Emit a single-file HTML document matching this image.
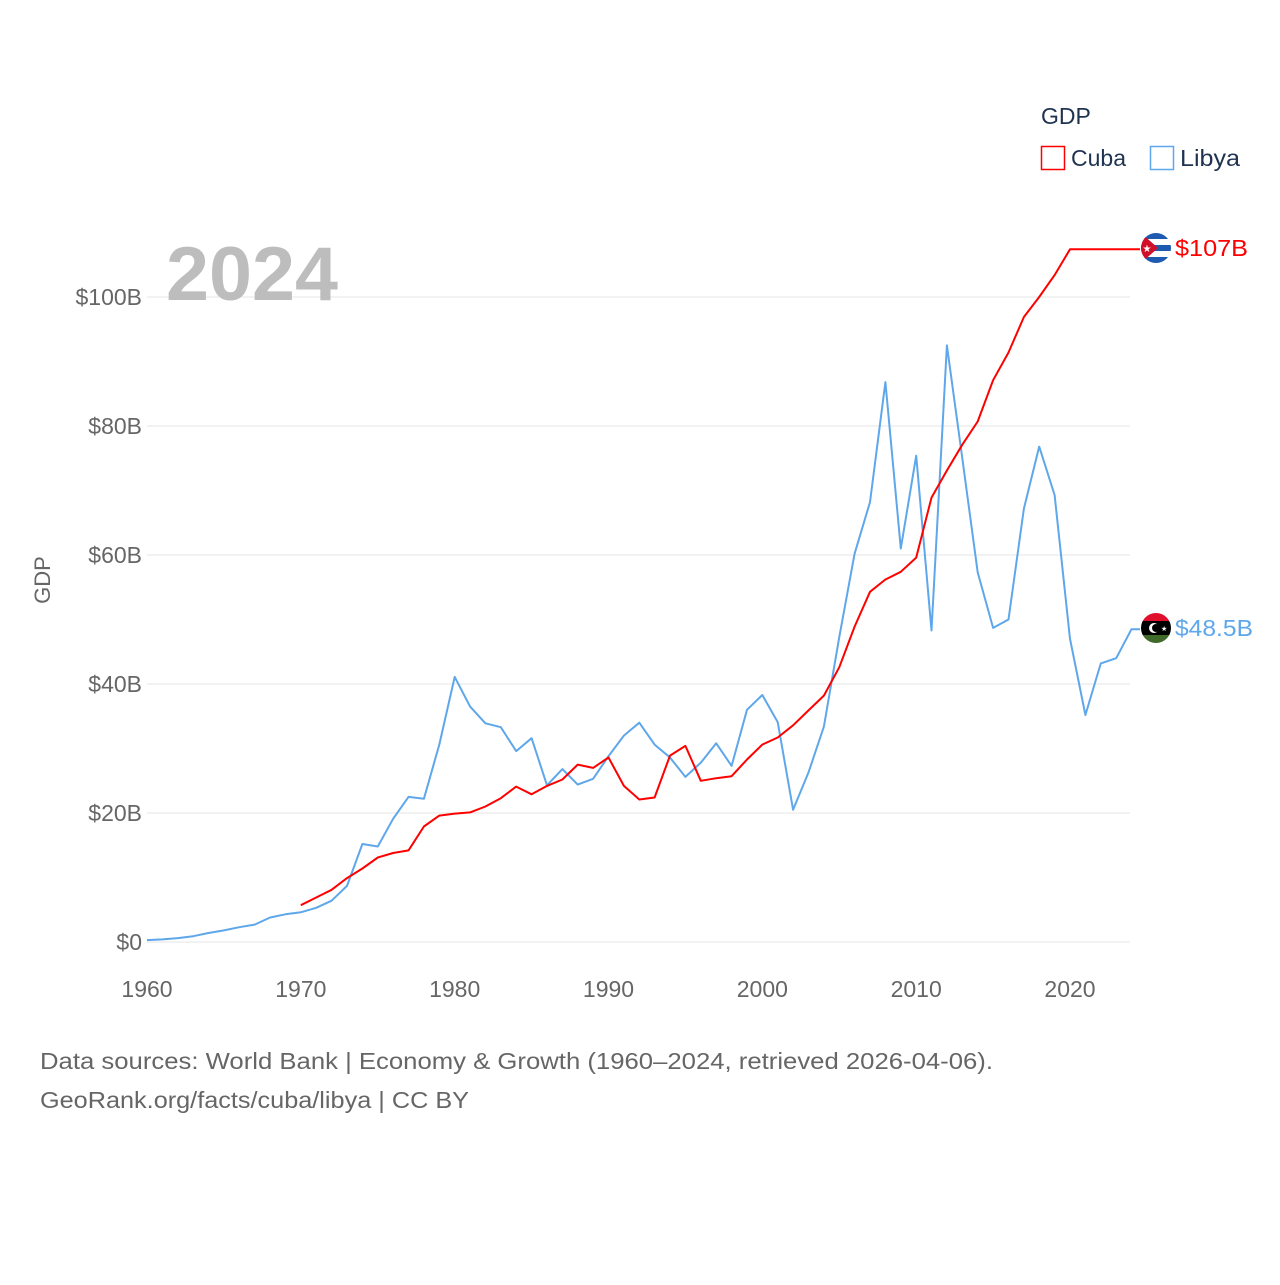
<!DOCTYPE html>
<html><head><meta charset="utf-8">
<style>
html,body{margin:0;padding:0;background:#fff;}
body{width:1280px;height:1280px;overflow:hidden;font-family:"Liberation Sans",sans-serif;}
svg text{font-family:"Liberation Sans",sans-serif;}
</style></head>
<body>
<svg id="chart" width="1280" height="1280" viewBox="0 0 1280 1280">
  <g id="grid"></g>
  <g id="yticks"></g>
  <g id="xticks"></g>
  <text x="50" y="580" font-size="22" fill="#666" text-anchor="middle" transform="rotate(-90 50 580)">GDP</text>
  <text x="166" y="300" font-size="76" font-weight="bold" fill="#bdbdbd" textLength="172" lengthAdjust="spacingAndGlyphs">2024</text>
  <g id="series"></g>
  <g>
    <text x="1041" y="124" font-size="23" fill="#1f3350">GDP</text>
    <g>
      <rect x="1041.5" y="146.5" width="23" height="23" fill="none" stroke="#ff0000" stroke-width="1.5"/>
      <text x="1071" y="166" font-size="23" fill="#1f3350">Cuba</text>
    </g>
    <g>
      <rect x="1150.5" y="146.5" width="23" height="23" fill="none" stroke="#5ea7ea" stroke-width="1.5"/>
      <text x="1180" y="166" font-size="23" fill="#1f3350" textLength="60" lengthAdjust="spacingAndGlyphs">Libya</text>
    </g>
  </g>
  <defs>
    <clipPath id="cc"><circle cx="1156" cy="248" r="15"/></clipPath>
    <clipPath id="lc"><circle cx="1156" cy="628" r="15"/></clipPath>
  </defs>
  <g clip-path="url(#cc)">
    <rect x="1141" y="233" width="30" height="30" fill="#fff"/>
    <rect x="1141" y="233" width="30" height="6" fill="#1e5bb0"/>
    <rect x="1141" y="245" width="30" height="6" fill="#1e5bb0"/>
    <rect x="1141" y="257" width="30" height="6" fill="#1e5bb0"/>
    <polygon points="1141,233 1158,248 1141,263" fill="#d0102a"/>
    <text x="1147" y="252" font-size="10" fill="#fff" text-anchor="middle">★</text>
  </g>
  <g clip-path="url(#lc)">
    <rect x="1141" y="613" width="30" height="8" fill="#e0102c"/>
    <rect x="1141" y="621" width="30" height="14" fill="#000"/>
    <rect x="1141" y="635" width="30" height="8" fill="#3f6a2a"/>
    <circle cx="1154" cy="628" r="5" fill="#fff"/><circle cx="1156" cy="628" r="4" fill="#000"/>
    <text x="1161" y="631" font-size="7" fill="#fff">★</text>
  </g>
  <text x="1175" y="256" font-size="23" fill="#ff0000" textLength="73" lengthAdjust="spacingAndGlyphs">$107B</text>
  <text x="1175" y="636" font-size="23" fill="#5ea7ea" textLength="78" lengthAdjust="spacingAndGlyphs">$48.5B</text>
  <text x="40" y="1069" font-size="23" fill="#666" textLength="953" lengthAdjust="spacingAndGlyphs">Data sources: World Bank | Economy &amp; Growth (1960–2024, retrieved 2026-04-06).</text>
  <text x="40" y="1108" font-size="23" fill="#666" textLength="429" lengthAdjust="spacingAndGlyphs">GeoRank.org/facts/cuba/libya | CC BY</text>
</svg>
<script>
const yTicks=[0,20,40,60,80,100];
const yTickLabels=["$0","$20B","$40B","$60B","$80B","$100B"];
const xTicks=[1960,1970,1980,1990,2000,2010,2020];
const libyaStart=1960;
const libyaValues=[0.3,0.4,0.6,0.9,1.4,1.8,2.3,2.7,3.8,4.3,4.6,5.3,6.4,8.7,15.2,14.8,19.1,22.5,22.2,30.6,41.1,36.5,33.9,33.3,29.6,31.6,24.3,26.8,24.4,25.3,28.8,32.0,34.0,30.6,28.6,25.6,27.8,30.8,27.3,36.0,38.3,34.1,20.5,26.3,33.4,47.3,60.2,68.2,86.8,61.0,75.4,48.3,92.5,75.0,57.3,48.7,50.0,67.2,76.8,69.3,47.0,35.2,43.2,44.0,48.5];
const cubaStart=1970;
const cubaValues=[5.7,6.9,8.1,9.9,11.4,13.1,13.8,14.2,17.9,19.6,19.9,20.1,21.0,22.3,24.1,22.9,24.2,25.2,27.5,27.0,28.6,24.2,22.1,22.4,28.9,30.4,25.0,25.4,25.7,28.3,30.6,31.7,33.6,35.9,38.2,42.6,48.9,54.3,56.2,57.4,59.6,68.9,73.1,77.1,80.7,87.1,91.4,96.9,100.0,103.4,107.4];

const NS="http://www.w3.org/2000/svg";
const X=yr=>147+(yr-1960)*(1070-147)/60;
const Y=v=>942-v*6.45;
function mk(tag,attrs,parent){const e=document.createElementNS(NS,tag);for(const k in attrs)e.setAttribute(k,attrs[k]);parent.appendChild(e);return e;}
const grid=document.getElementById('grid'),yt=document.getElementById('yticks'),xt=document.getElementById('xticks'),ser=document.getElementById('series');
yTicks.forEach((v,i)=>{
  const l=mk('line',{x1:147,x2:1130,y1:Y(v),y2:Y(v),stroke:'#e6e6e6','stroke-width':1},grid);
  
  
  const t=mk('text',{x:142,y:Y(v)+8,'font-size':23,fill:'#666','text-anchor':'end'},yt);
  t.textContent=yTickLabels[i];
  
  
});
xTicks.forEach(yr=>{
  const t=mk('text',{x:X(yr),y:997,'font-size':23,fill:'#666','text-anchor':'middle'},xt);
  t.textContent=yr;
  
  
});
function line(start,vals,color,name){
  const pts=vals.map((v,i)=>X(start+i).toFixed(1)+','+Y(v).toFixed(1));
  pts.push('1140,'+Y(vals[vals.length-1]).toFixed(1));
  const p=mk('polyline',{points:pts.join(' '),fill:'none',stroke:color,'stroke-width':2,'stroke-linejoin':'round'},ser);
  
  
}
line(libyaStart,libyaValues,'#5ea7ea','libya-line');
line(cubaStart,cubaValues,'#ff0000','cuba-line');
</script>
</body></html>
